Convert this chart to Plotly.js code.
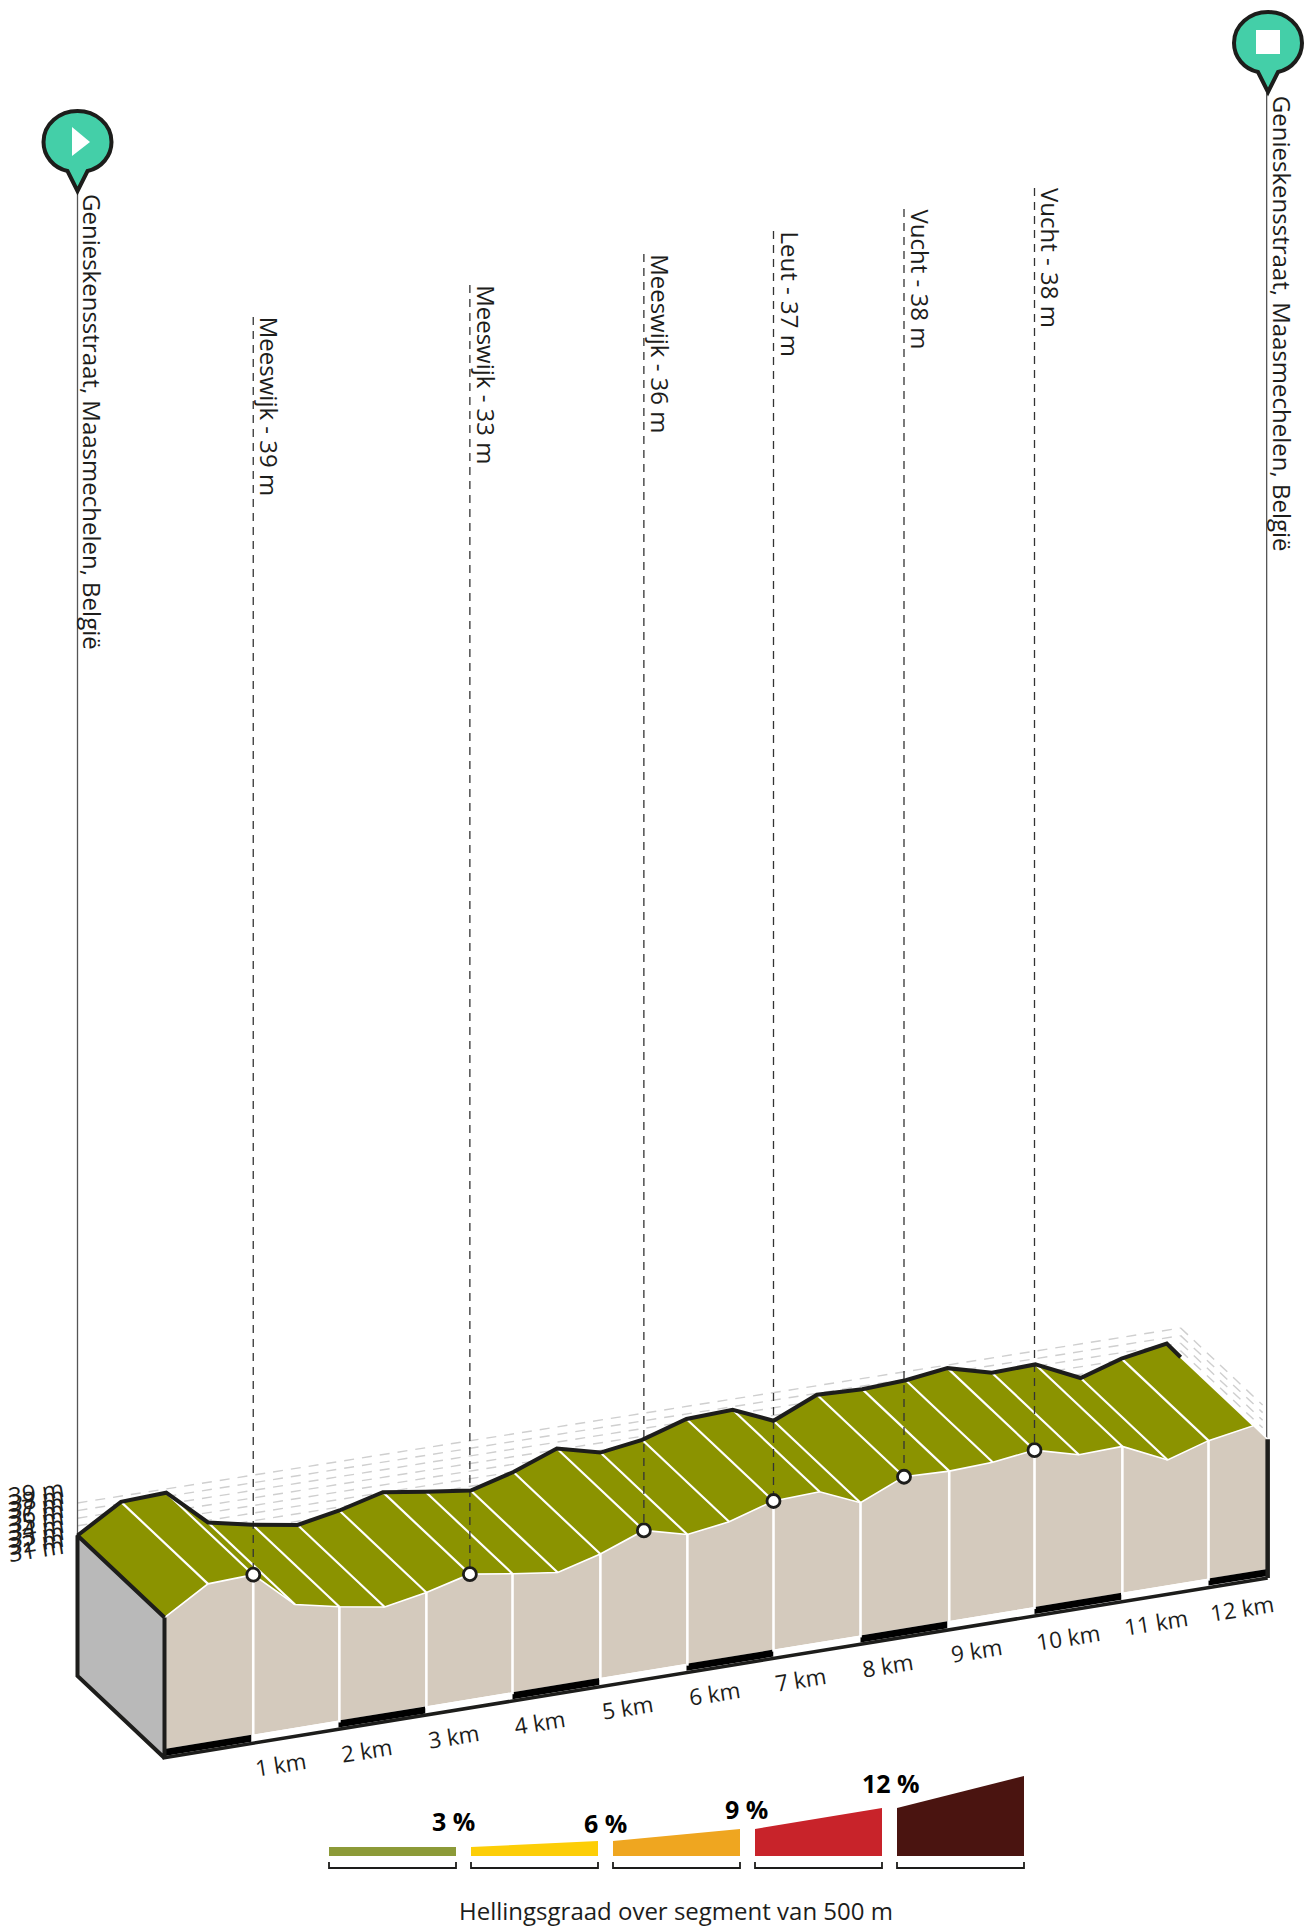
<!DOCTYPE html>
<html>
<head>
<meta charset="utf-8">
<script src="https://cdn.plot.ly/plotly-3.0.1.min.js"></script>
<style>html,body{margin:0;padding:0;background:#fff}</style>
</head>
<body>
<div id="chart" style="width:1314px;height:1928px"></div>
<script>
// ---- data ----
var km =   [0,0.5,1.02,1.5,2.01,2.53,3.01,3.51,4,4.52,5.01,5.51,6.01,6.49,7,7.53,8,8.5,9.02,9.52,10,10.51,11.01,11.53,12,12.52,12.68];
var elev = [34.2,38.7,39,32.8,31.2,29.9,31.2,33.1,32,30.95,32.9,35.7,33.8,34.8,37.1,37.4,34.4,37.6,37.3,37.6,38.5,36.5,36.7,33.15,35.3,36.6,33.9];
var kmLabels = ["1 km","2 km","3 km","4 km","5 km","6 km","7 km","8 km","9 km","10 km","11 km","12 km"];
var elevTicks = [39,38,37,36,35,34,33,32,31];
var poiKm = [1.02,3.51,5.51,7,8.5,10];
var poiNames = ["Meeswijk - 39 m","Meeswijk - 33 m","Meeswijk - 36 m","Leut - 37 m","Vucht - 38 m","Vucht - 38 m"];
var poiTop = [317,285,254,231,209,188];
var startName = "Genieskensstraat, Maasmechelen, België";
var legendRise = [0,6,12,21,32];
var legendColors = ["#8c9a38","#fdce07","#efa620","#c8232a","#4a1410"];
var legendLabels = ["3 %","6 %","9 %","12 %"];
var legendTitle = "Hellingsgraad over segment van 500 m";

// ---- projection of the oblique block ----
var DARK="#1d1d1b", FONT="'Open Sans', sans-serif";
var endKm = km[km.length-1];
function fx(k){return 164.5+87*k;}
function fy(k,e){return 1589.2-14.2*k-5.9*(e-39);}
function by(k,e){return fy(k,e)-82;}
function bx(k){return fx(k)-87;}
function baseY(k,off){return 1749-14.2*k+off;}

var traces=[], ann=[], shapes=[];
function addLine(xs,ys,color,width,dash){traces.push({x:xs,y:ys,mode:"lines",hoverinfo:"skip",line:{color:color,width:width,dash:dash||"solid",simplify:false}});}
function poly(xs,ys,fill,lc,lw){traces.push({x:xs,y:ys,mode:"lines",fill:"toself",fillcolor:fill,hoverinfo:"skip",line:{color:lc||fill,width:lw===undefined?0:lw}});}

// grid on back wall and on the far end
elevTicks.forEach(function(t,i){
  var y0=1503+7.6*i, y1=y0-13.8*endKm;
  addLine([bx(0),bx(endKm)],[y0,y1],"#cfcfcf",1.4,"10px,8px");
  addLine([bx(endKm),bx(endKm)+82],[y1,y1+77],"#cfcfcf",1.4,"10px,8px");
  ann.push({x:36,y:1491+7.2*i,xref:"x",yref:"y",showarrow:false,text:t+" m",textangle:-9,font:{family:FONT,size:24,color:DARK}});
});

// start / finish poles
var lastTop=km.length-1;
addLine([bx(0),bx(0)],[192,by(0,elev[0])],"#555",1.3);
addLine([fx(endKm)-1,fx(endKm)-1],[93,fy(endKm,elev[lastTop])],"#555",1.3);

// top (road) surface
var nTop=km.length-1;
var topX=[],topY=[];
for(var i=0;i<nTop;i++){topX.push(fx(km[i]));topY.push(fy(km[i],elev[i]));}
for(i=nTop-1;i>=0;i--){topX.push(bx(km[i]));topY.push(by(km[i],elev[i]));}
poly(topX,topY,"#8b9300");

// left side face
poly([bx(0),fx(0),fx(0),bx(0)],[by(0,elev[0]),fy(0,elev[0]),baseY(0,9),baseY(0,9)-82],"#b9b9b9");

// front face
var fX=km.map(fx), fY=km.map(function(k,i){return fy(k,elev[i]);});
poly(fX.concat([fx(endKm),fx(0)]),fY.concat([baseY(endKm,0),baseY(0,0)]),"#d4cabd");

// km strip
for(var s=0;s<13;s++){
  var a=s,b=Math.min(s+1,endKm);
  poly([fx(a),fx(b),fx(b),fx(a)],[baseY(a,0),baseY(b,0),baseY(b,7),baseY(a,7)],s%2?"#ffffff":"#000000");
}

// white lines across the road surface
var wx=[],wy=[];
for(i=1;i<nTop;i++){wx.push(bx(km[i]),fx(km[i]),null);wy.push(by(km[i],elev[i]),fy(km[i],elev[i]),null);}
addLine(wx,wy,"#ffffff",2.2);
// white edge of front profile
addLine(fX.slice(0,nTop+1),fY.slice(0,nTop+1),"#ffffff",1.6);

// white km lines on the front face
var vx=[],vy=[];
for(i=2;i<=24;i+=2){vx.push(fx(km[i]),fx(km[i]),null);vy.push(fy(km[i],elev[i]),baseY(km[i],2),null);}
addLine(vx,vy,"#ffffff",2.6);

// poi dashed lines
poiKm.forEach(function(k,j){
  addLine([fx(k),fx(k)],[poiTop[j],fy(k,elev[km.indexOf(k)])],"#333333",1.3,"8px,6px");
  ann.push({x:fx(k)-2,y:poiTop[j]-2,xref:"x",yref:"y",xanchor:"left",yanchor:"top",showarrow:false,text:poiNames[j],textangle:90,font:{family:FONT,size:24,color:DARK}});
});

// dark edges
addLine(km.map(bx),km.map(function(k,i){return by(k,elev[i]);}),DARK,4);
addLine([fx(0),bx(0),bx(0),fx(0),fx(0)],[fy(0,elev[0]),by(0,elev[0]),baseY(0,9)-82,baseY(0,9),fy(0,elev[0])],DARK,4);
addLine([fx(0)-2,fx(endKm)],[baseY(0,9),baseY(endKm,9)],DARK,3.5);
addLine([fx(endKm),fx(endKm)],[fy(endKm,elev[lastTop]),baseY(endKm,9)],DARK,4.5);

// poi markers
traces.push({x:poiKm.map(fx),y:poiKm.map(function(k){return fy(k,elev[km.indexOf(k)]);}),mode:"markers",hoverinfo:"skip",
  marker:{color:"#ffffff",size:13,line:{color:DARK,width:2.8}}});

// km labels
kmLabels.forEach(function(t,j){
  var k=km[2*(j+1)];
  ann.push({x:fx(k)-3,y:baseY(k,30),xref:"x",yref:"y",xanchor:"left",yanchor:"middle",showarrow:false,text:t,textangle:-9,font:{family:FONT,size:22.5,color:DARK}});
});

// start and finish texts
ann.push({x:bx(0)-3,y:192,xref:"x",yref:"y",xanchor:"left",yanchor:"top",showarrow:false,text:startName,textangle:90,font:{family:FONT,size:24,color:DARK}});
ann.push({x:fx(endKm)-3,y:94,xref:"x",yref:"y",xanchor:"left",yanchor:"top",showarrow:false,text:startName,textangle:90,font:{family:FONT,size:24,color:DARK}});

// pins
function pin(cx,cy){
  var p=[["M",cx-10,cy+29],["C",cx-24,cy+26,cx-34,cy+14,cx-34,cy],["C",cx-34,cy-18,cx-18,cy-31,cx,cy-31],
         ["C",cx+18,cy-31,cx+34,cy-18,cx+34,cy],["C",cx+34,cy+14,cx+24,cy+26,cx+10,cy+29],["L",cx,cy+49],["Z"]];
  return p.map(function(s){var c=s[0],o=s.slice(1),r=[];for(var q=0;q<o.length;q+=2)r.push(o[q]+","+o[q+1]);return c+r.join(" ");}).join(" ");
}
shapes.push({type:"path",path:pin(77.5,142),fillcolor:"#44cfa8",line:{color:DARK,width:4},layer:"above"});
shapes.push({type:"path",path:pin(1268,43),fillcolor:"#44cfa8",line:{color:DARK,width:4},layer:"above"});
shapes.push({type:"path",path:"M72,127 L90,142 L72,156 Z",fillcolor:"#fff",line:{width:0},layer:"above"});
shapes.push({type:"rect",x0:1256,x1:1280,y0:30,y1:54,fillcolor:"#fff",line:{width:0},layer:"above"});

// legend
var lx=329, lw=127, lstep=142, lb=1856, legendTop=1847;
legendRise.forEach(function(r,j){
  var x0=lx+j*lstep,x1=x0+lw,t0=legendTop,t1=legendTop-r;
  poly([x0,x1,x1,x0],[t0,t1,lb,lb],legendColors[j]);
  addLine([x0,x0,x1,x1],[1862,1868,1868,1862],DARK,1.8);
  legendTop=t1;
});
var lgx=[453,605,746,891], lgy=[1821,1823,1809,1783];
legendLabels.forEach(function(t,j){
  ann.push({x:lgx[j],y:lgy[j],xref:"x",yref:"y",showarrow:false,text:"<b>"+t+"</b>",font:{family:FONT,size:25,color:"#000"}});
});
ann.push({x:676,y:1910,xref:"x",yref:"y",showarrow:false,text:legendTitle,font:{family:FONT,size:24,color:DARK}});

Plotly.newPlot("chart",traces,{
  width:1314,height:1928,margin:{l:0,r:0,t:0,b:0},showlegend:false,
  paper_bgcolor:"#fff",plot_bgcolor:"#fff",
  xaxis:{range:[0,1314],visible:false,fixedrange:true},
  yaxis:{range:[1928,0],visible:false,fixedrange:true},
  annotations:ann,shapes:shapes
},{displayModeBar:false,staticPlot:true});
</script>
</body>
</html>
